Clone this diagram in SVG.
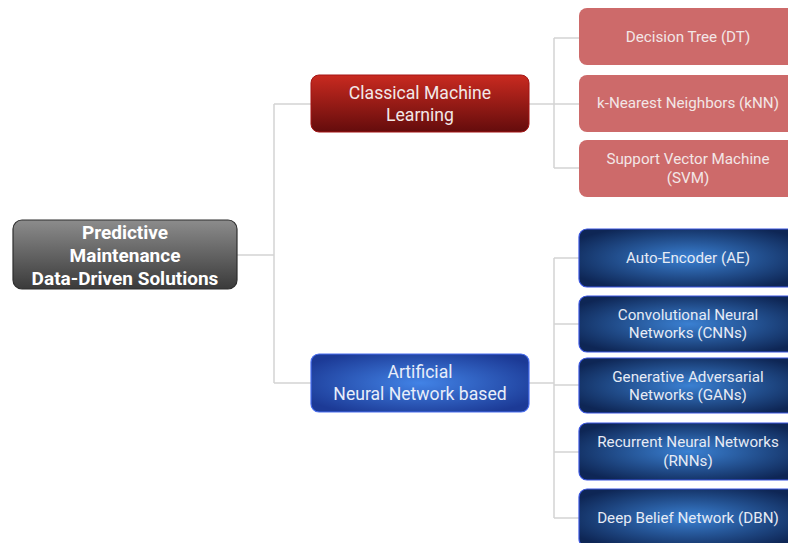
<svg xmlns="http://www.w3.org/2000/svg" width="788" height="543" viewBox="0 0 788 543">
<style>
text{font-family:Roboto,"Liberation Sans",sans-serif;text-anchor:middle;dominant-baseline:central}
.root{font-size:19px;font-weight:bold;fill:#ffffff}
.mid{font-size:17.6px;fill:#f2e8e8}
.midb{font-size:17.6px;fill:#e8eefa}
.leaf{font-size:15.2px;fill:#f3e6e6}
.leafb{font-size:15.2px;fill:#e6ebf5}
.conn{fill:none;stroke:#d4d4d4;stroke-width:1.5}
</style>
<defs>
<linearGradient id="gGray" x1="0" y1="0" x2="0" y2="1"><stop offset="0" stop-color="#8c8c8c"/><stop offset="1" stop-color="#3a3a3a"/></linearGradient>
<linearGradient id="gRed" x1="0" y1="0" x2="0" y2="1"><stop offset="0" stop-color="#c92a20"/><stop offset="1" stop-color="#640c0c"/></linearGradient>
<radialGradient id="gBlue" cx="0.5" cy="0.5" r="0.6"><stop offset="0" stop-color="#4283e6"/><stop offset="1" stop-color="#1c3a96"/></radialGradient>
<radialGradient id="gBlueLeaf" cx="0.5" cy="0.5" r="0.6"><stop offset="0" stop-color="#3a80d2"/><stop offset="1" stop-color="#0e2655"/></radialGradient>
</defs>
<g id="connectors">
<path class="conn" d="M237,255 H274 M274,104 V383 M274,104 H311 M274,383 H311"/>
<path class="conn" d="M529,104 H554 M554,38 V168 M554,38 H579 M554,104 H579 M554,168 H579"/>
<path class="conn" d="M529,383 H554 M554,258 V518 M554,258 H579 M554,324 H579 M554,385 H579 M554,452 H579 M554,518 H579"/>
</g>
<g id="root"><rect x="13" y="220" width="224" height="69" rx="9" fill="url(#gGray)" stroke="#2e2e2e" stroke-width="1.2"/>
<text class="root" x="125" y="232">Predictive</text><text class="root" x="125" y="255">Maintenance</text><text class="root" x="125" y="278">Data-Driven Solutions</text></g>
<g id="classical"><rect x="311" y="75" width="218" height="57" rx="8" fill="url(#gRed)" stroke="#a51515" stroke-width="1"/>
<text class="mid" x="420" y="93">Classical Machine</text><text class="mid" x="420" y="115">Learning</text></g>
<g id="ann"><rect x="311" y="354" width="218" height="58" rx="8" fill="url(#gBlue)" stroke="#4a6ff0" stroke-width="1.2"/>
<text class="midb" x="420" y="372">Artificial</text><text class="midb" x="420" y="394">Neural Network based</text></g>
<g id="dt"><rect x="579" y="8" width="220" height="57" rx="8" fill="#cd6a6a"/><text class="leaf" x="688" y="37">Decision Tree (DT)</text></g>
<g id="knn"><rect x="579" y="75" width="220" height="57" rx="8" fill="#cd6a6a"/><text class="leaf" x="688" y="103">k-Nearest Neighbors (kNN)</text></g>
<g id="svm"><rect x="579" y="140" width="220" height="57" rx="8" fill="#cd6a6a"/><text class="leaf" x="688" y="159">Support Vector Machine</text><text class="leaf" x="688" y="178">(SVM)</text></g>
<g id="ae"><rect x="579" y="229" width="220" height="58" rx="8" fill="url(#gBlueLeaf)" stroke="#3a55e0" stroke-width="1.2"/><text class="leafb" x="688" y="258">Auto-Encoder (AE)</text></g>
<g id="cnn"><rect x="579" y="296" width="220" height="56" rx="8" fill="url(#gBlueLeaf)" stroke="#3a55e0" stroke-width="1.2"/><text class="leafb" x="688" y="315">Convolutional Neural</text><text class="leafb" x="688" y="333">Networks (CNNs)</text></g>
<g id="gan"><rect x="579" y="358" width="220" height="55" rx="8" fill="url(#gBlueLeaf)" stroke="#3a55e0" stroke-width="1.2"/><text class="leafb" x="688" y="377">Generative Adversarial</text><text class="leafb" x="688" y="395">Networks (GANs)</text></g>
<g id="rnn"><rect x="579" y="423" width="220" height="57" rx="8" fill="url(#gBlueLeaf)" stroke="#3a55e0" stroke-width="1.2"/><text class="leafb" x="688" y="442">Recurrent Neural Networks</text><text class="leafb" x="688" y="461">(RNNs)</text></g>
<g id="dbn"><rect x="579" y="489" width="220" height="58" rx="8" fill="url(#gBlueLeaf)" stroke="#3a55e0" stroke-width="1.2"/><text class="leafb" x="688" y="518">Deep Belief Network (DBN)</text></g>
</svg>
